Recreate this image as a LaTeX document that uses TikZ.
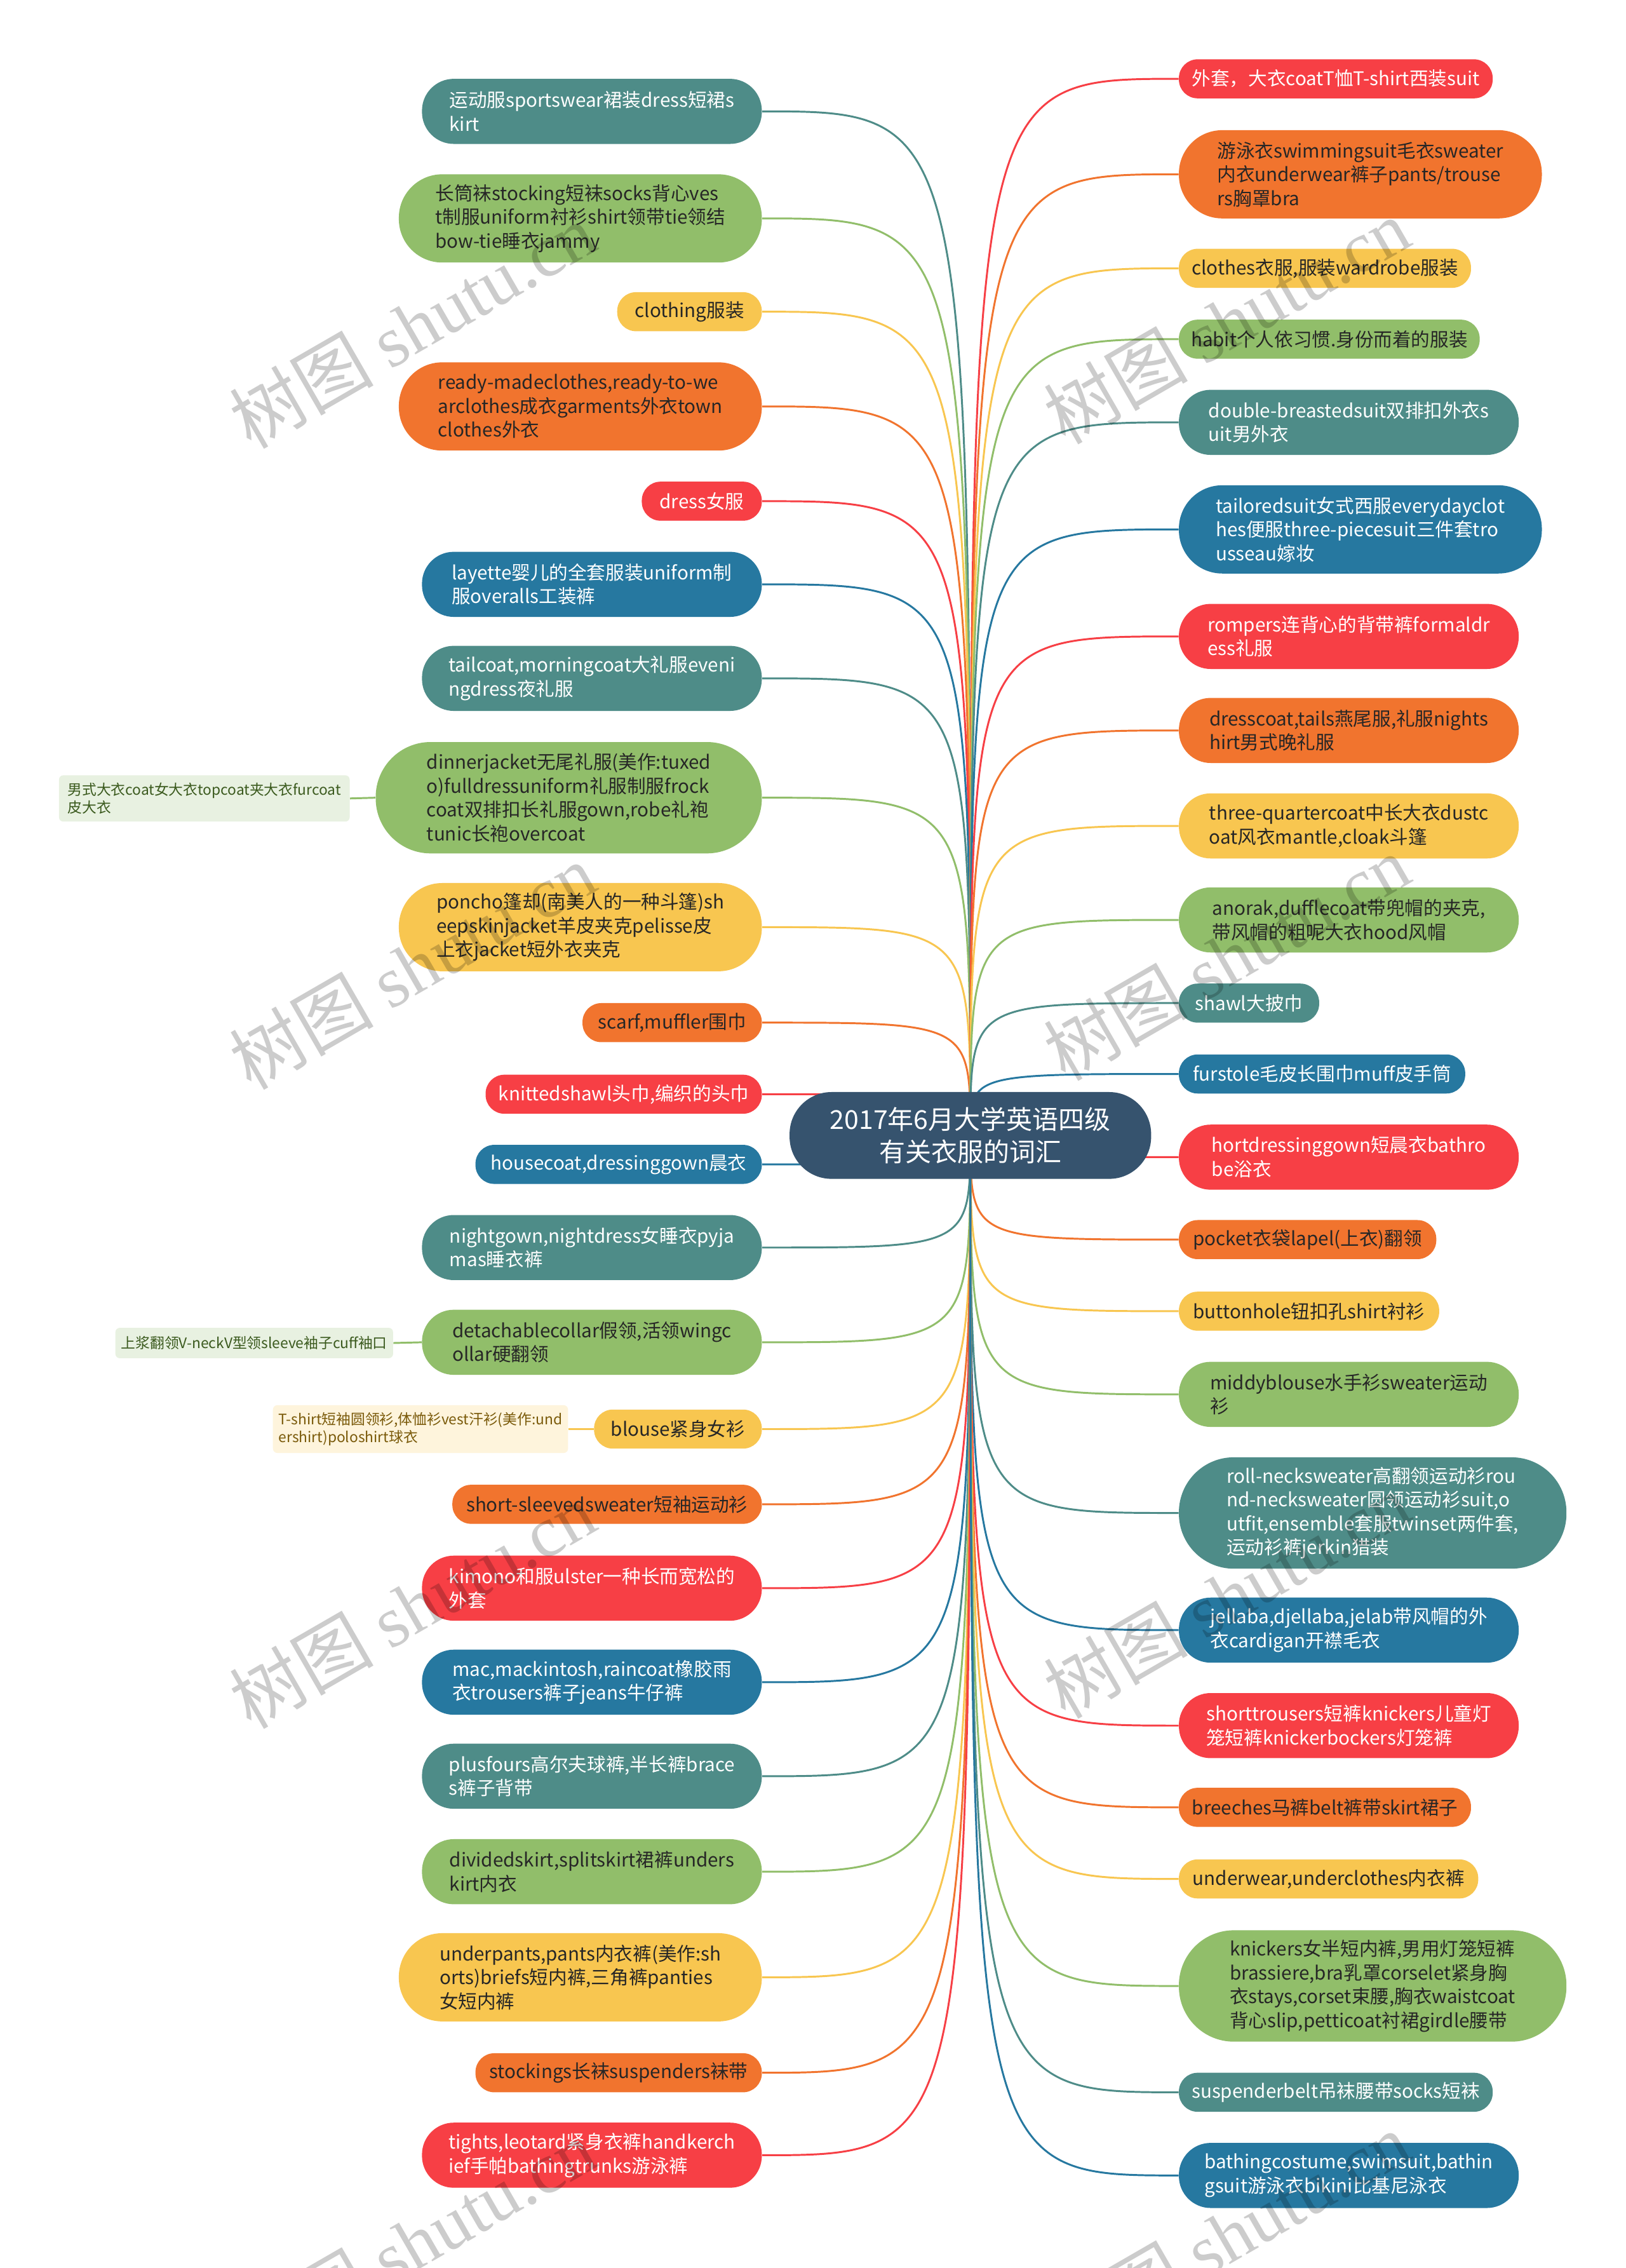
\documentclass[tikz,border=0pt]{standalone}
\usepackage{fontspec}
\setmainfont{Noto Sans CJK SC}
\newfontfamily\wmlatin{Liberation Serif}
\newfontfamily\wmcjk{Noto Sans CJK SC}
\definecolor{cTeal}{HTML}{4E8C88}
\definecolor{cGreen}{HTML}{91BE6A}
\definecolor{cYellow}{HTML}{F8C650}
\definecolor{cOrange}{HTML}{F1742E}
\definecolor{cRed}{HTML}{F73F45}
\definecolor{cBlue}{HTML}{2678A0}
\definecolor{cCenter}{HTML}{36536E}
\definecolor{cDark}{HTML}{262626}
\definecolor{cLeafG}{HTML}{E8F1E1}
\definecolor{cLeafGT}{HTML}{3B5A1E}
\definecolor{cLeafY}{HTML}{FEF4DC}
\definecolor{cLeafYT}{HTML}{7A5A0A}
\pgfdeclarelayer{bg}
\pgfdeclarelayer{edges}
\pgfdeclarelayer{wm}
\pgfsetlayers{bg,edges,main,wm}
\tikzset{
  box/.style={rectangle, inner xsep=3pt, inner ysep=0pt, align=left,
    font=\fontsize{13}{16.5}\selectfont},
  h1/.style={minimum height=27pt, rounded corners=13pt},
  h2/.style={minimum height=45pt, rounded corners=22pt},
  h3/.style={minimum height=61pt, rounded corners=30pt},
  h4/.style={minimum height=77pt, rounded corners=38pt},
  sTeal/.style={fill=cTeal, text=white},
  sBlue/.style={fill=cBlue, text=white},
  sRed/.style={fill=cRed, text=white},
  sGreen/.style={fill=cGreen, text=cDark},
  sYellow/.style={fill=cYellow, text=cDark},
  sOrange/.style={fill=cOrange, text=cDark},
  link/.style={line width=1.3pt},
  leaf/.style={rectangle, rounded corners=3pt, inner xsep=4pt, inner ysep=0pt,
    align=left, font=\fontsize{10}{12}\selectfont},
  wmark/.style={rotate=30, text=black, text opacity=0.2, inner sep=0pt,
    font=\fontsize{50}{50}\selectfont}
}
% #1 name, #2 colour, #3 width, #4 lines, #5 y, #6 text
\newcommand\Lnode[6]{%
  \node[box,h#4,s#2,minimum width=#3pt,anchor=east] (#1) at (527,#5) {#6};
  \begin{pgfonlayer}{edges}
    \draw[link,c#2] (ctr.center) .. controls (671,#5) .. (#1.east);
  \end{pgfonlayer}}
\newcommand\Rnode[6]{%
  \node[box,h#4,s#2,minimum width=#3pt,anchor=west] (#1) at (815,#5) {#6};
  \begin{pgfonlayer}{edges}
    \draw[link,c#2] (ctr.center) .. controls (671,#5) .. (#1.west);
  \end{pgfonlayer}}
\begin{document}
\begin{tikzpicture}[x=1pt,y=-1pt]
\useasboundingbox (0,0) rectangle (1124,1568);
\begin{pgfonlayer}{bg}
  \fill[white] (0,0) rectangle (1124,1568);
\end{pgfonlayer}

\node[fill=cCenter, text=white, minimum width=250pt, minimum height=60pt,
  rounded corners=29pt, align=center, inner sep=0pt,
  font=\fontsize{18}{22.5}\selectfont] (ctr) at (671,785)
  {2017年6月大学英语四级\\有关衣服的词汇};

% left side
\Lnode{l1}{Teal}{235}{2}{77}{运动服sportswear裙装dress短裙s\\kirt}
\Lnode{l2}{Green}{251}{3}{151}{长筒袜stocking短袜socks背心ves\\t制服uniform衬衫shirt领带tie领结\\bow-tie睡衣jammy}
\Lnode{l3}{Yellow}{100}{1}{215.5}{clothing服装}
\Lnode{l4}{Orange}{251}{3}{281}{ready-madeclothes,ready-to-we\\arclothes成衣garments外衣town\\clothes外衣}
\Lnode{l5}{Red}{83}{1}{346.5}{dress女服}
\Lnode{l6}{Blue}{235}{2}{404}{layette婴儿的全套服装uniform制\\服overalls工装裤}
\Lnode{l7}{Teal}{235}{2}{469}{tailcoat,morningcoat大礼服eveni\\ngdress夜礼服}
\Lnode{l8}{Green}{267}{4}{551.5}{dinnerjacket无尾礼服(美作:tuxed\\o)fulldressuniform礼服制服frock\\coat双排扣长礼服gown,robe礼袍\\tunic长袍overcoat}
\Lnode{l9}{Yellow}{251}{3}{641}{poncho篷却(南美人的一种斗篷)sh\\eepskinjacket羊皮夹克pelisse皮\\上衣jacket短外衣夹克}
\Lnode{l10}{Orange}{124}{1}{707}{scarf,muffler围巾}
\Lnode{l11}{Red}{191}{1}{756.5}{knittedshawl头巾,编织的头巾}
\Lnode{l12}{Blue}{198}{1}{805}{housecoat,dressinggown晨衣}
\Lnode{l13}{Teal}{235}{2}{862.5}{nightgown,nightdress女睡衣pyja\\mas睡衣裤}
\Lnode{l14}{Green}{235}{2}{928}{detachablecollar假领,活领wingc\\ollar硬翻领}
\Lnode{l15}{Yellow}{116}{1}{988}{blouse紧身女衫}
\Lnode{l16}{Orange}{214}{1}{1040}{short-sleevedsweater短袖运动衫}
\Lnode{l17}{Red}{235}{2}{1098}{kimono和服ulster一种长而宽松的\\外套}
\Lnode{l18}{Blue}{235}{2}{1163}{mac,mackintosh,raincoat橡胶雨\\衣trousers裤子jeans牛仔裤}
\Lnode{l19}{Teal}{235}{2}{1228}{plusfours高尔夫球裤,半长裤brace\\s裤子背带}
\Lnode{l20}{Green}{235}{2}{1294}{dividedskirt,splitskirt裙裤unders\\kirt内衣}
\Lnode{l21}{Yellow}{251}{3}{1367}{underpants,pants内衣裤(美作:sh\\orts)briefs短内裤,三角裤panties\\女短内裤}
\Lnode{l22}{Orange}{198}{1}{1433}{stockings长袜suspenders袜带}
\Lnode{l23}{Red}{235}{2}{1490}{tights,leotard紧身衣裤handkerch\\ief手帕bathingtrunks游泳裤}

% right side
\Rnode{r1}{Red}{217}{1}{54.5}{外套，大衣coatT恤T-shirt西装suit}
\Rnode{r2}{Orange}{251}{3}{120.5}{游泳衣swimmingsuit毛衣sweater\\内衣underwear裤子pants/trouse\\rs胸罩bra}
\Rnode{r3}{Yellow}{202}{1}{185.5}{clothes衣服,服装wardrobe服装}
\Rnode{r4}{Green}{208}{1}{234.5}{habit个人依习惯.身份而着的服装}
\Rnode{r5}{Teal}{235}{2}{292}{double-breastedsuit双排扣外衣s\\uit男外衣}
\Rnode{r6}{Blue}{251}{3}{366}{tailoredsuit女式西服everydayclot\\hes便服three-piecesuit三件套tro\\usseau嫁妆}
\Rnode{r7}{Red}{235}{2}{440}{rompers连背心的背带裤formaldr\\ess礼服}
\Rnode{r8}{Orange}{235}{2}{505}{dresscoat,tails燕尾服,礼服nights\\hirt男式晚礼服}
\Rnode{r9}{Yellow}{235}{2}{571}{three-quartercoat中长大衣dustc\\oat风衣mantle,cloak斗篷}
\Rnode{r10}{Green}{235}{2}{636}{anorak,dufflecoat带兜帽的夹克,\\带风帽的粗呢大衣hood风帽}
\Rnode{r11}{Teal}{97}{1}{693.5}{shawl大披巾}
\Rnode{r12}{Blue}{198}{1}{742.5}{furstole毛皮长围巾muff皮手筒}
\Rnode{r13}{Red}{235}{2}{800}{hortdressinggown短晨衣bathro\\be浴衣}
\Rnode{r14}{Orange}{178}{1}{857}{pocket衣袋lapel(上衣)翻领}
\Rnode{r15}{Yellow}{180}{1}{906.5}{buttonhole钮扣孔shirt衬衫}
\Rnode{r16}{Green}{235}{2}{964}{middyblouse水手衫sweater运动\\衫}
\Rnode{r17}{Teal}{268}{4}{1046}{roll-necksweater高翻领运动衫rou\\nd-necksweater圆领运动衫suit,o\\utfit,ensemble套服twinset两件套,\\运动衫裤jerkin猎装}
\Rnode{r18}{Blue}{235}{2}{1127}{jellaba,djellaba,jelab带风帽的外\\衣cardigan开襟毛衣}
\Rnode{r19}{Red}{235}{2}{1193}{shorttrousers短裤knickers儿童灯\\笼短裤knickerbockers灯笼裤}
\Rnode{r20}{Orange}{202}{1}{1249.5}{breeches马裤belt裤带skirt裙子}
\Rnode{r21}{Yellow}{207}{1}{1299}{underwear,underclothes内衣裤}
\Rnode{r22}{Green}{268}{4}{1373}{knickers女半短内裤,男用灯笼短裤\\brassiere,bra乳罩corselet紧身胸\\衣stays,corset束腰,胸衣waistcoat\\背心slip,petticoat衬裙girdle腰带}
\Rnode{r23}{Teal}{217}{1}{1446.5}{suspenderbelt吊袜腰带socks短袜}
\Rnode{r24}{Blue}{235}{2}{1504}{bathingcostume,swimsuit,bathin\\gsuit游泳衣bikini比基尼泳衣}

% leaf nodes
\node[leaf, fill=cLeafG, text=cLeafGT, minimum width=201pt, minimum height=32pt, anchor=east] (g1) at (242,552) {男式大衣coat女大衣topcoat夹大衣furcoat\\皮大衣};
\node[leaf, fill=cLeafG, text=cLeafGT, minimum width=186pt, minimum height=21pt, anchor=east] (g2) at (272,928.5) {上浆翻领V-neckV型领sleeve袖子cuff袖口};
\node[leaf, fill=cLeafY, text=cLeafYT, minimum width=200pt, minimum height=33pt, anchor=east] (y1) at (393,988) {T-shirt短袖圆领衫,体恤衫vest汗衫(美作:und\\ershirt)poloshirt球衣};
\begin{pgfonlayer}{edges}
  \draw[link,cGreen] (g1.east) -- (l8.west);
  \draw[link,cGreen] (g2.east) -- (l14.west);
  \draw[link,cYellow] (y1.east) -- (l15.west);
\end{pgfonlayer}

% watermarks
\begin{pgfonlayer}{wm}
  \node[wmark] (w1) at (285,225) {\wmcjk 树图 \wmlatin shutu.cn};
  \node[wmark] (w2) at (848,222) {\wmcjk 树图 \wmlatin shutu.cn};
  \node[wmark] (w3) at (285,668) {\wmcjk 树图 \wmlatin shutu.cn};
  \node[wmark] (w4) at (848,662) {\wmcjk 树图 \wmlatin shutu.cn};
  \node[wmark] (w5) at (285,1110) {\wmcjk 树图 \wmlatin shutu.cn};
  \node[wmark] (w6) at (848,1103) {\wmcjk 树图 \wmlatin shutu.cn};
  \node[wmark] (w7) at (285,1550) {\wmcjk 树图 \wmlatin shutu.cn};
  \node[wmark] (w8) at (848,1545) {\wmcjk 树图 \wmlatin shutu.cn};
\end{pgfonlayer}
\end{tikzpicture}
\end{document}
